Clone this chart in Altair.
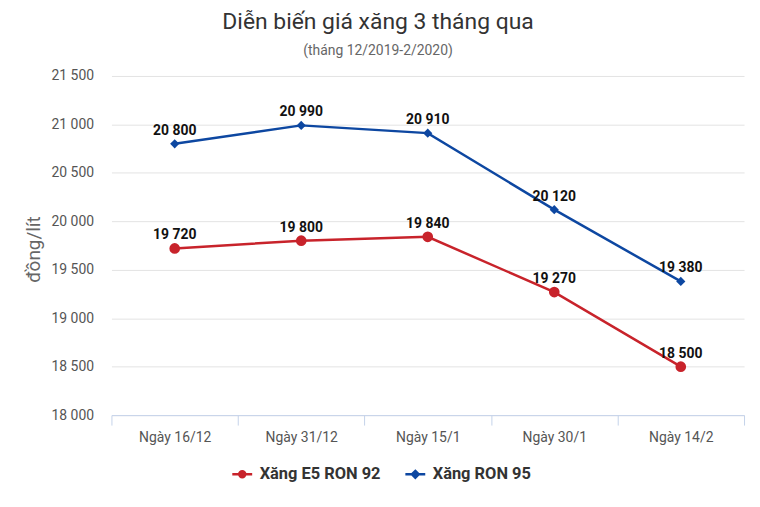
import altair as alt
import pandas as pd

dates = ["Ngày 16/12", "Ngày 31/12", "Ngày 15/1", "Ngày 30/1", "Ngày 14/2"]
series_names = ["Xăng E5 RON 92", "Xăng RON 95"]
e5_ron92 = [19720, 19800, 19840, 19270, 18500]
ron95 = [20800, 20990, 20910, 20120, 19380]
colors = ["#c8232b", "#0d47a1"]

rows = []
for d, v in zip(dates, e5_ron92):
    rows.append({"date": d, "series": series_names[0], "value": v})
for d, v in zip(dates, ron95):
    rows.append({"date": d, "series": series_names[1], "value": v})
df = pd.DataFrame(rows)

FONT = "Roboto"


def circles(radii):
    return " ".join(
        f"M{-r},0A{r},{r} 0 1,1 {r},0A{r},{r} 0 1,1 {-r},0Z" for r in radii)


def diamonds(radii):
    return " ".join(f"M0,{-r}L{r},0L0,{r}L{-r},0Z" for r in radii)


# legend glyphs: a short line with a marker in its middle
legend_circle = "M-1,0L1,0 " + circles([0.06, 0.18, 0.3])
legend_diamond = "M-1,0L1,0 " + diamonds([0.08, 0.22, 0.34])

legend_spec = alt.Legend(title=None, orient="none", direction="horizontal",
                         legendX=120, legendY=389,
                         labelFont=FONT, labelFontSize=16.5,
                         labelFontWeight="bold", labelColor="#333333",
                         labelOffset=6, symbolSize=400, columnPadding=19,
                         symbolStrokeWidth=2.5, symbolOpacity=1,
                         symbolFillColor="transparent")

x_enc = alt.X("date:N", sort=dates, title=None,
              scale=alt.Scale(paddingInner=0, paddingOuter=0),
              axis=alt.Axis(labelAngle=0, labelFont=FONT, labelFontSize=14,
                            labelColor="#555555", labelPadding=6,
                            domainColor="#c5d3ea", tickColor="#c5d3ea",
                            tickSize=10, tickBand="extent", grid=False))
y_enc = alt.Y("value:Q", title="đồng/lít",
              scale=alt.Scale(domain=[18000, 21500], nice=False, zero=False),
              axis=alt.Axis(values=[18000, 18500, 19000, 19500, 20000, 20500, 21000, 21500],
                            labelExpr="replace(format(datum.value, ','), ',', ' ')",
                            labelFont=FONT, labelFontSize=14, labelColor="#555555",
                            labelPadding=18, domain=False, ticks=False,
                            gridColor="#e3e3e3", gridWidth=1,
                            titleFont=FONT, titleFontSize=19, titleFontWeight="normal",
                            titleColor="#666666", titleAngle=-90,
                            titleX=-68, titleY=174))
color_enc = alt.Color("series:N", sort=series_names,
                      scale=alt.Scale(domain=series_names, range=colors),
                      legend=legend_spec)
shape_enc = alt.Shape("series:N", sort=series_names,
                      scale=alt.Scale(domain=series_names,
                                      range=[legend_circle, legend_diamond]),
                      legend=legend_spec)

base = alt.Chart(df).encode(x=x_enc, y=y_enc)

lines = base.mark_line(strokeWidth=2.5).encode(color=color_enc)
red_points = base.transform_filter(alt.datum.series == series_names[0]).mark_point(
    shape="circle", filled=True, opacity=1, size=115).encode(color=color_enc)
blue_points = base.transform_filter(alt.datum.series == series_names[1]).mark_point(
    shape="diamond", filled=True, opacity=1, size=85).encode(color=color_enc)
legend_layer = base.mark_point(filled=False, opacity=0, size=400).encode(
    color=color_enc, shape=shape_enc)
labels = base.transform_calculate(
    lbl="replace(format(datum.value, ','), ',', ' ')"
).mark_text(dy=-13, font=FONT, fontSize=14, fontWeight="bold",
            color="#111111").encode(text="lbl:N")

chart = alt.layer(lines, red_points, blue_points, legend_layer, labels).properties(
    width=636, height=341,
    autosize=alt.AutoSizeParams(type="none"),
    padding={"left": 104, "top": 67, "right": 8, "bottom": 83},
    title=alt.TitleParams(
        text="Diễn biến giá xăng 3 tháng qua",
        subtitle="(tháng 12/2019-2/2020)",
        font=FONT, fontSize=23, fontWeight="normal", color="#333333",
        subtitleFont=FONT, subtitleFontSize=14, subtitleColor="#666666",
        subtitlePadding=10, anchor="middle", dx=-50, offset=11),
).configure_view(stroke=None)

chart.save("out.html", embed_options={"renderer": "svg", "actions": False})
